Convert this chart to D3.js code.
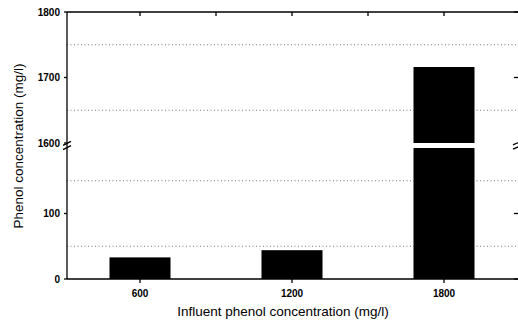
<!DOCTYPE html>
<html>
<head>
<meta charset="utf-8">
<script src="https://cdn.jsdelivr.net/npm/d3@7/dist/d3.min.js"></script>
<style>
  html, body { margin: 0; padding: 0; background: #fff; }
  svg { display: block; }
  text { font-family: "Liberation Sans", Arial, sans-serif; fill: #000; }
</style>
</head>
<body>
<svg id="chart" width="518" height="323"></svg>
<script>
// Influent concentrations (categories) and measured effluent phenol
const categories = ["600", "1200", "1800"];
const phenolValues = [33, 44, 1716];

// Broken y axis: a lower segment and an upper segment
const lowerDomain = [0, 200];
const upperDomain = [1600, 1800];
const lowerTicks = [0, 100];
const lowerTickLabels = ["0", "100"];
const upperTicks = [1600, 1700, 1800];
const upperTickLabels = ["1600", "1700", "1800"];
const lowerGrid = [50, 150];
const upperGrid = [1650, 1750];

const xTitle = "Influent phenol concentration (mg/l)";
const yTitle = "Phenol concentration (mg/l)";

(function () {
const svg = d3.select("#chart");
const plotL = 67, plotR = 520, plotT = 12, plotB = 279;

const x = d3.scalePoint().domain(categories).range([140, 444]);
const step = x.step();
const barW = 61;

const yLow = d3.scaleLinear().domain(lowerDomain).range([plotB, 148]);
const yUp = d3.scaleLinear().domain(upperDomain).range([143, plotT]);

// dotted grid lines
const gridG = svg.append("g");
lowerGrid.forEach(v => gridG.append("line")
  .attr("x1", plotL).attr("x2", plotR).attr("y1", yLow(v)).attr("y2", yLow(v)));
upperGrid.forEach(v => gridG.append("line")
  .attr("x1", plotL).attr("x2", plotR).attr("y1", yUp(v)).attr("y2", yUp(v)));
gridG.selectAll("line").attr("stroke", "#555").attr("stroke-width", 0.8)
  .attr("stroke-dasharray", "1,2.5");

// bars: lower piece and, when the value exceeds the break, an upper piece
const bars = svg.append("g");
categories.forEach((c, i) => {
  const v = phenolValues[i];
  const lowTop = yLow(Math.min(v, lowerDomain[1]));
  bars.append("rect")
    .attr("x", x(c) - barW / 2).attr("width", barW)
    .attr("y", lowTop).attr("height", yLow(0) - lowTop)
    .attr("fill", "#000");
  if (v > upperDomain[0]) {
    const upTop = yUp(Math.min(v, upperDomain[1]));
    bars.append("rect")
      .attr("x", x(c) - barW / 2).attr("width", barW)
      .attr("y", upTop).attr("height", yUp(upperDomain[0]) - upTop)
      .attr("fill", "#000");
  }
});

// axes frame
const frame = svg.append("g").attr("stroke", "#000").attr("stroke-width", 1.3).attr("fill", "none");
frame.append("line").attr("x1", plotL).attr("x2", plotL).attr("y1", plotT).attr("y2", plotB);
frame.append("line").attr("x1", plotL).attr("x2", plotR).attr("y1", plotB).attr("y2", plotB);
frame.append("line").attr("x1", plotL).attr("x2", plotR).attr("y1", plotT).attr("y2", plotT);
frame.append("line").attr("x1", plotR).attr("x2", plotR).attr("y1", plotT).attr("y2", plotB);

// y axis ticks and labels
const yLabels = svg.append("g").attr("font-size", 10).attr("font-weight", "bold")
  .attr("text-anchor", "end");
lowerTicks.forEach((v, i) => {
  frame.append("line").attr("x1", plotL - 3).attr("x2", plotL).attr("y1", yLow(v)).attr("y2", yLow(v));
  frame.append("line").attr("x1", plotR - 6).attr("x2", plotR).attr("y1", yLow(v)).attr("y2", yLow(v));
  yLabels.append("text").attr("x", plotL - 7).attr("y", yLow(v)).attr("dy", "0.35em").text(lowerTickLabels[i]);
});
upperTicks.forEach((v, i) => {
  frame.append("line").attr("x1", plotL - 3).attr("x2", plotL).attr("y1", yUp(v)).attr("y2", yUp(v));
  if (v !== upperDomain[0]) {
    frame.append("line").attr("x1", plotR - 6).attr("x2", plotR).attr("y1", yUp(v)).attr("y2", yUp(v));
  }
  yLabels.append("text").attr("x", plotL - 7).attr("y", yUp(v)).attr("dy", "0.35em").text(upperTickLabels[i]);
});

// break marks on the axes
const breakY = (yUp(upperDomain[0]) + yLow(lowerDomain[1])) / 2;
[-2.2, 2.2].forEach(d => {
  frame.append("line").attr("x1", plotL - 4).attr("x2", plotL + 4)
    .attr("y1", breakY + d + 2).attr("y2", breakY + d - 2);
  frame.append("line").attr("x1", plotR - 7).attr("x2", plotR)
    .attr("y1", breakY + d + 1.5).attr("y2", breakY + d - 1.5);
});

// x axis ticks: major below, minor (half step) on top pointing inward
categories.forEach(c => {
  frame.append("line").attr("x1", x(c)).attr("x2", x(c)).attr("y1", plotB).attr("y2", plotB + 4);
});
const topTickPos = [];
categories.forEach((c, i) => {
  topTickPos.push(x(c));
  if (i < categories.length - 1) topTickPos.push(x(c) + step / 2);
});
topTickPos.forEach(p => {
  frame.append("line").attr("x1", p).attr("x2", p).attr("y1", plotT).attr("y2", plotT + 4);
});

// x tick labels
svg.append("g").attr("font-size", 10).attr("font-weight", "bold").attr("text-anchor", "middle")
  .selectAll("text").data(categories).join("text")
  .attr("x", d => x(d)).attr("y", plotB + 18).text(d => d);

// axis titles
svg.append("text").attr("x", 283).attr("y", 316)
  .attr("text-anchor", "middle").attr("font-size", 13.5).attr("font-weight", 500).text(xTitle);
svg.append("text").attr("transform", "translate(23,146) rotate(-90)")
  .attr("text-anchor", "middle").attr("font-size", 13.5).attr("font-weight", 500).text(yTitle);
})();
</script>
</body>
</html>
